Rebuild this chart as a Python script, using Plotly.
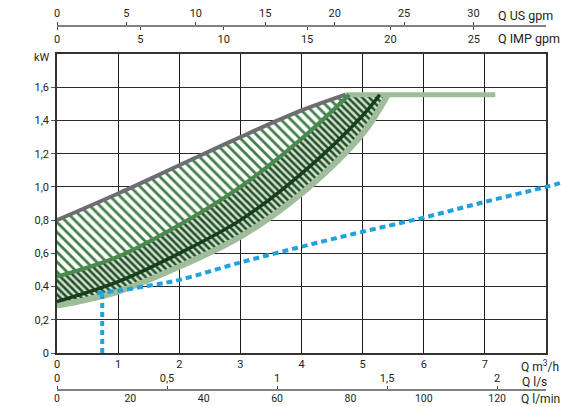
import plotly.graph_objects as go

# ---- data ----
q_max = [0, 1, 2, 3, 4, 4.72]
p_max = [0.80, 0.96, 1.13, 1.30, 1.46, 1.555]

q_mid = [0, 1, 2, 3, 4, 4.78]
p_mid = [0.46, 0.58, 0.77, 1.00, 1.29, 1.555]

q_dark = [0, 1, 2, 3, 4, 5, 5.28]
p_dark = [0.31, 0.43, 0.60, 0.80, 1.08, 1.43, 1.555]

q_low = [0, 1, 2, 3, 4, 5, 5.41]
p_low = [0.285, 0.37, 0.52, 0.70, 0.96, 1.32, 1.555]

q_flat = [4.72, 7.17]
p_flat = [1.555, 1.555]

q_blue_v = [0.74, 0.74]
p_blue_v = [0.0, 0.35]
q_blue = [0.66, 1.0, 1.5, 2.0, 3.0, 4.0, 5.0, 6.0, 7.0, 8.0, 8.3]
p_blue = [0.36, 0.375, 0.405, 0.44, 0.545, 0.64, 0.73, 0.815, 0.91, 1.0, 1.03]

x_ticks = [0, 1, 2, 3, 4, 5, 6, 7]
y_ticks = [0, 0.2, 0.4, 0.6, 0.8, 1.0, 1.2, 1.4, 1.6]
y_ticktext = ["0", "0,2", "0,4", "0,6", "0,8", "1,0", "1,2", "1,4", "1,6"]
usgpm_ticks = [0, 5, 10, 15, 20, 25, 30]
impgpm_ticks = [0, 5, 10, 15, 20, 25]
ls_ticks = [0, 0.5, 1, 1.5, 2]
ls_ticktext = ["0", "0,5", "1", "1,5", "2"]
lmin_ticks = [0, 20, 40, 60, 80, 100, 120]

Q_MAX = 8.0
P_MAX = 1.8
US_GPM_PER_M3H = 4.40287
IMP_GPM_PER_M3H = 3.66614
LS_PER_M3H = 1 / 3.6
LMIN_PER_M3H = 1000 / 60

W, H = 561, 407
PX_L, PX_R, PX_T, PX_B = 57, 546, 54, 353
FONT = "Roboto, Liberation Sans, sans-serif"
TXT = "#231f20"

fig = go.Figure()

# hatched fills (lower band, upper band)
fig.add_trace(go.Scatter(x=q_low, y=p_low, mode="lines", line=dict(width=0, shape="spline"),
                         hoverinfo="skip", showlegend=False))
fig.add_trace(go.Scatter(x=q_mid, y=p_mid, mode="lines", line=dict(width=0, shape="spline"),
                         fill="tonexty", fillcolor="#c9dbc5",
                         fillpattern=dict(shape="\\", fgcolor="#244f2a", bgcolor="#d0e0cc",
                                          fgopacity=1, size=5, solidity=0.5),
                         hoverinfo="skip", showlegend=False))
fig.add_trace(go.Scatter(x=q_max, y=p_max, mode="lines", line=dict(width=0, shape="spline"),
                         fill="tonexty", fillcolor="white",
                         fillpattern=dict(shape="\\", fgcolor="#437f49", bgcolor="white",
                                          fgopacity=1, size=7, solidity=0.4),
                         hoverinfo="skip", showlegend=False))

# curves
fig.add_trace(go.Scatter(x=q_low, y=p_low, mode="lines",
                         line=dict(color="#9fbd9b", width=6, shape="spline"),
                         hoverinfo="skip", showlegend=False))
fig.add_trace(go.Scatter(x=q_flat, y=p_flat, mode="lines",
                         line=dict(color="#9fbd9b", width=5),
                         hoverinfo="skip", showlegend=False))
fig.add_trace(go.Scatter(x=q_dark, y=p_dark, mode="lines",
                         line=dict(color="#173f1d", width=3.5, shape="spline"),
                         hoverinfo="skip", showlegend=False))
fig.add_trace(go.Scatter(x=q_mid, y=p_mid, mode="lines",
                         line=dict(color="#4a8a50", width=4, shape="spline"),
                         hoverinfo="skip", showlegend=False))
fig.add_trace(go.Scatter(x=q_max, y=p_max, mode="lines",
                         line=dict(color="#6d6e71", width=4, shape="spline"),
                         hoverinfo="skip", showlegend=False))

# blue dotted line (own subplot that runs past the right frame, like the reference)
fig.add_trace(go.Scatter(x=q_blue_v, y=p_blue_v, mode="lines", xaxis="x6", yaxis="y2",
                         line=dict(color="#1ea3e0", width=4, dash="5px,4px"),
                         hoverinfo="skip", showlegend=False))
fig.add_trace(go.Scatter(x=q_blue, y=p_blue, mode="lines", xaxis="x6", yaxis="y2",
                         line=dict(color="#1ea3e0", width=4, dash="6px,4px", shape="spline"),
                         hoverinfo="skip", showlegend=False))

# invisible helpers so that the secondary flow-unit axes get drawn
for ax, conv in (("x2", US_GPM_PER_M3H), ("x3", IMP_GPM_PER_M3H),
                 ("x4", LS_PER_M3H), ("x5", LMIN_PER_M3H)):
    fig.add_trace(go.Scatter(x=[0, Q_MAX * conv], y=[None, None], xaxis=ax, yaxis="y",
                             mode="lines", hoverinfo="skip", showlegend=False))

x_dom = [PX_L / W, PX_R / W]
y_dom = [1 - PX_B / H, 1 - PX_T / H]
px_per_q = (PX_R - PX_L) / Q_MAX
top_pos = 1 - 25.5 / H
bot_pos = 1 - 390 / H
tickfont = dict(family=FONT, size=11, color=TXT)
smallfont = dict(family=FONT, size=10.5, color=TXT)

common = dict(automargin=False, fixedrange=True, zeroline=False)

fig.update_layout(
    template="none",
    width=W, height=H,
    margin=dict(l=0, r=0, t=0, b=0, pad=0),
    paper_bgcolor="white", plot_bgcolor="rgba(0,0,0,0)",
    font=dict(family=FONT, size=11, color=TXT),
    xaxis=dict(domain=x_dom, range=[0, Q_MAX], tickvals=x_ticks, ticks="",
               showgrid=True, gridcolor="#1a1a1a", gridwidth=1.3, tickfont=tickfont,
               showline=True, linecolor="#333", linewidth=1.5, mirror=True, **common),
    yaxis=dict(domain=y_dom, range=[0, P_MAX], tickvals=y_ticks, ticktext=y_ticktext,
               ticks="outside", ticklen=4, tickcolor="#555", tickwidth=1, tickfont=tickfont,
               showgrid=True, gridcolor="#2a2a2a", gridwidth=1.3,
               showline=True, linecolor="#333", linewidth=1.5, mirror=True, **common),
    xaxis2=dict(overlaying="x", anchor="free", position=top_pos, side="top",
                range=[0, Q_MAX * US_GPM_PER_M3H], tickvals=usgpm_ticks,
                ticks="outside", ticklen=3, tickcolor="#444", tickwidth=1, tickfont=tickfont,
                showline=True, linecolor="#808080", linewidth=1.8,
                showgrid=False, **common),
    xaxis3=dict(overlaying="x", anchor="free", position=top_pos, side="bottom",
                range=[0, Q_MAX * IMP_GPM_PER_M3H], tickvals=impgpm_ticks,
                ticks="outside", ticklen=3, tickcolor="#444", tickwidth=1, tickfont=tickfont,
                showline=False, showgrid=False, **common),
    xaxis4=dict(overlaying="x", anchor="free", position=bot_pos, side="top",
                range=[0, Q_MAX * LS_PER_M3H], tickvals=ls_ticks, ticktext=ls_ticktext,
                ticks="outside", ticklen=3, tickcolor="#444", tickwidth=1, tickfont=tickfont,
                showline=True, linecolor="#808080", linewidth=1.8,
                showgrid=False, **common),
    xaxis5=dict(overlaying="x", anchor="free", position=bot_pos, side="bottom",
                range=[0, Q_MAX * LMIN_PER_M3H], tickvals=lmin_ticks,
                ticks="", tickfont=smallfont,
                showline=False, showgrid=False, **common),
    xaxis6=dict(domain=[PX_L / W, 1.0], range=[0, (W - PX_L) / px_per_q], anchor="y2",
                visible=False, showgrid=False, fixedrange=True),
    yaxis2=dict(domain=y_dom, range=[0, P_MAX], anchor="x6",
                visible=False, showgrid=False, fixedrange=True),
)

def label(text, px, py, anchor="left", size=12.5):
    fig.add_annotation(text=text, x=px / W, y=1 - py / H, xref="paper", yref="paper",
                       xanchor=anchor, yanchor="middle", showarrow=False,
                       font=dict(family=FONT, size=size, color=TXT))

label("Q US gpm", 496, 16)
label("Q IMP gpm", 496, 38)
label("Q m<sup>3</sup>/h", 519, 366, size=12)
label("Q l/s", 520, 382, size=12)
label("Q l/min", 519, 399, size=12)
label("kW", 52, 57, anchor="right", size=11)

fig.write_html("out.html", config={"displayModeBar": False},
               post_script="document.body.style.margin='0';")
